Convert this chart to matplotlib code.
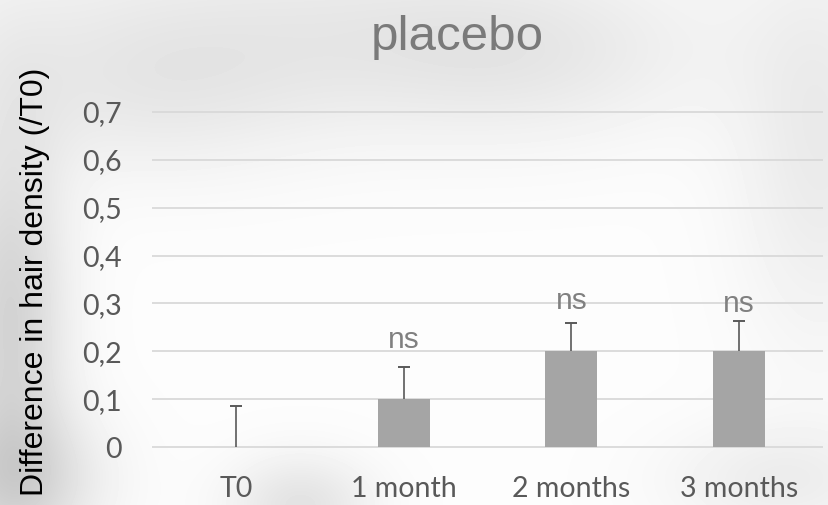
import numpy as np
import matplotlib
matplotlib.use("Agg")
import matplotlib.pyplot as plt

categories = ["T0", "1 month", "2 months", "3 months"]
values = [0.0, 0.10, 0.20, 0.20]
err_plus = [0.085, 0.067, 0.060, 0.064]
sig_labels = ["", "ns", "ns", "ns"]
sig_y = [None, 0.207, 0.288, 0.283]
yticks = [0, 0.1, 0.2, 0.3, 0.4, 0.5, 0.6, 0.7]
ytick_labels = ["0", "0,1", "0,2", "0,3", "0,4", "0,5", "0,6", "0,7"]

W, H = 829, 505
fig = plt.figure(figsize=(W / 100, H / 100), dpi=100)

# soft blurred background
bgax = fig.add_axes([0, 0, 1, 1], zorder=-10)
yy, xx = np.mgrid[0:H, 0:W]
bg = np.full((H, W), 0.99)
blobs = [
    (300, 30, 260, 70, 0.07),
    (520, 60, 120, 60, 0.05),
    (10, 320, 40, 140, 0.16),
    (20, 480, 60, 50, 0.12),
    (300, 505, 50, 35, 0.10),
    (820, 150, 60, 140, 0.07),
    (780, 480, 80, 40, 0.06),
    (150, 100, 120, 60, 0.05),
]
for bx, by, sx, sy, a in blobs:
    bg -= a * np.exp(-(((xx - bx) / sx) ** 2 + ((yy - by) / sy) ** 2) / 2)
bgax.imshow(bg, cmap="gray", vmin=0, vmax=1, aspect="auto", interpolation="bilinear")
bgax.axis("off")

ax = fig.add_axes([152 / W, 1 - 449.4 / H, (823 - 152) / W, (449.4 - 109.6) / H])
ax.patch.set_alpha(0)
x = np.arange(len(categories))
vals = np.array(values)
tops = vals + np.array(err_plus)
ax.bar(x, vals, width=0.31, color="#a5a5a5", zorder=3)
ax.vlines(x, vals, tops, color="#595959", linewidth=1.2, zorder=4)
ax.plot(x, tops, linestyle="none", marker="_", markersize=9, markeredgewidth=1.4,
        color="#595959", zorder=4)
for xi, lab, sy in zip(x, sig_labels, sig_y):
    if lab:
        ax.text(xi, sy, lab, ha="center", va="baseline", fontsize=21.5,
                color="#808080", family="Liberation Sans", zorder=5)

ax.set_xlim(-0.5, 3.5)
ax.set_ylim(-0.005, 0.705)
ax.set_yticks(yticks)
ax.set_yticklabels(ytick_labels)
ax.set_xticks(x)
ax.set_xticklabels(categories)
for s in ax.spines.values():
    s.set_visible(False)
ax.tick_params(length=0)
ax.tick_params(axis="y", pad=22, labelsize=20.5, labelcolor="#595959")
ax.tick_params(axis="x", pad=19, labelsize=20.5, labelcolor="#595959")
for lab in ax.get_xticklabels() + ax.get_yticklabels():
    lab.set_family("Lato")
ax.yaxis.grid(True, color="#d9d9d9", linewidth=1.3, zorder=0)
ax.set_axisbelow(True)

fig.text(457 / W, 1 - 37 / H, "placebo", ha="center", va="center",
         fontsize=35.5, color="#7a7a7a", family="Liberation Sans")
fig.text(35 / W, 1 - 282 / H, "Difference in hair density (/T0)", rotation=90,
         ha="center", va="center", fontsize=23, color="black", family="Liberation Sans")

fig.savefig("out.png", dpi=100)
